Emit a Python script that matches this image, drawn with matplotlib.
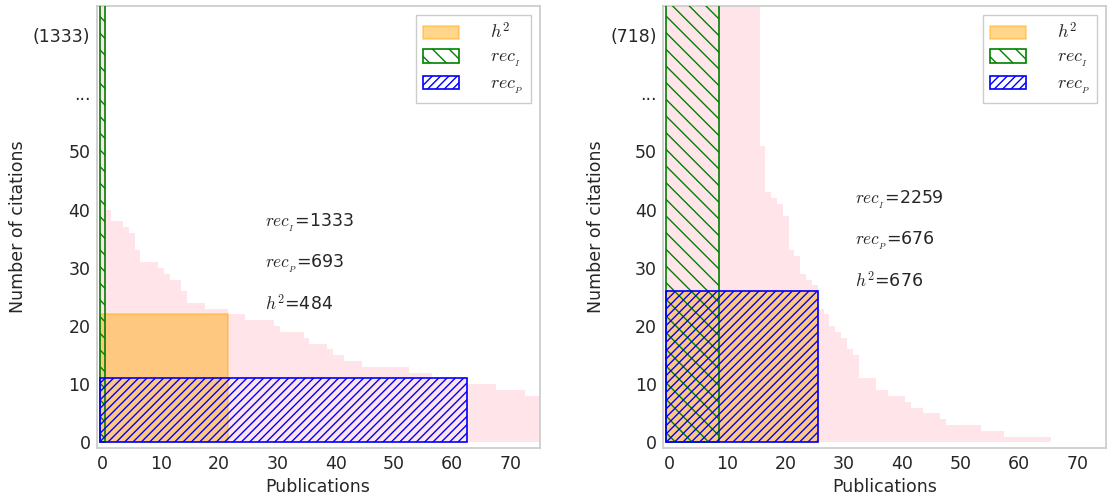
import matplotlib
matplotlib.use('Agg')
from matplotlib import pyplot as plt

# citations per publication, sorted descending (first bars of the right panel are clipped)
cites_left = [1333, 40, 38, 38, 37, 36, 33, 31, 31, 31, 30, 29, 28, 28, 26,
              24, 24, 24, 23, 23, 23, 23, 22, 22, 22, 21, 21, 21, 21, 21,
              20, 19, 19, 19, 19, 18, 17, 17, 17, 16, 15, 15, 14, 14, 14,
              13, 13, 13, 13, 13, 13, 13, 13, 12, 12, 12, 12, 11, 11, 11,
              11, 11, 11, 10, 10, 10, 10, 10, 9, 9, 9, 9, 9, 8, 8, 8]
cites_right = [718, 600, 480, 420, 350, 310, 290, 270, 251, 180, 150, 120, 100, 90, 80,
               76, 51, 43, 42, 41, 39, 33, 32, 29, 28, 27, 23, 22, 20, 19,
               18, 16, 15, 11, 11, 11, 9, 9, 8, 8, 8, 7, 6, 6, 5,
               5, 5, 4, 3, 3, 3, 3, 3, 3, 2, 2, 2, 2, 1, 1,
               1, 1, 1, 1, 1, 1]

y_ticks = [0, 10, 20, 30, 40, 50, 60, 70]

plt.rcParams['mathtext.fontset'] = 'cm'
plt.rcParams['font.size'] = 12
plt.rcParams['text.color'] = '#262626'
plt.rcParams['axes.labelcolor'] = '#262626'
plt.rcParams['xtick.color'] = '#262626'
plt.rcParams['ytick.color'] = '#262626'
plt.rcParams['hatch.linewidth'] = 1.0


def indicators(c):
    h = max(k for k in range(len(c) + 1) if k == 0 or c[k - 1] >= k)
    ri = max((k * c[k - 1], k) for k in range(1, h + 1))
    rp = max((k * min(c[k - 1], h), k) for k in range(h, len(c) + 1))
    ri_w = ri[1]
    rp_w = rp[1]
    return h, ri_w, c[ri_w - 1], rp_w, min(c[rp_w - 1], h)


def draw(ax, c):
    h, ri_w, ri_h, rp_w, rp_h = indicators(c)
    ax.bar(range(len(c)), c, width=1, color='pink', alpha=0.4, linewidth=0, zorder=1)
    ax.bar(-0.5, h, width=h, align='edge', facecolor='orange', edgecolor='orange',
           alpha=0.45, linewidth=1.2, label='$h^2$', zorder=2)
    ax.bar(-0.5, ri_h, width=ri_w, align='edge', facecolor='none', edgecolor='green',
           hatch='\\\\', linewidth=1.2, label='$rec_{_I}$', zorder=3)
    ax.bar(-0.5, rp_h, width=rp_w, align='edge', facecolor='none', edgecolor='blue',
           hatch='////', linewidth=1.2, label='$rec_{_P}$', zorder=4)

    tx = h + 5.9
    ax.text(tx, h + 15, '$rec_{_I}$=%d' % (ri_w * ri_h), va='baseline', fontsize=12.5)
    ax.text(tx, h + 8, '$rec_{_P}$=%d' % (rp_w * rp_h), va='baseline', fontsize=12.5)
    ax.text(tx, h + 0.7, '$h^2$=%d' % (h * h), va='baseline', fontsize=12.5)

    ax.set_xlim(-1, 75)
    ax.set_ylim(-1, 75)
    ax.set_yticks(y_ticks)
    ax.set_yticklabels([str(t) for t in y_ticks[:-2]] + ['...', '(%d)' % c[0]])
    ax.set_xticks(range(0, 71, 10))
    ax.tick_params(length=0, pad=4.5, labelsize=12.5)
    for s in ax.spines.values():
        s.set_color('#cccccc')
        s.set_linewidth(1.25)
    ax.set_xlabel('Publications', fontsize=12.5)
    ax.set_ylabel('Number of citations', fontsize=12.5)
    leg = ax.legend(loc='upper right', fontsize=13, fancybox=False,
                    handletextpad=1.7, labelspacing=0.3, handleheight=0.8,
                    framealpha=1)
    leg.get_frame().set_edgecolor('#cccccc')


fig = plt.figure(figsize=(11.1, 5.01), dpi=100)
ax1 = fig.add_axes([0.0871, 0.1052, 0.3991, 0.8828])
ax2 = fig.add_axes([0.5976, 0.1052, 0.3991, 0.8828])
draw(ax1, cites_left)
draw(ax2, cites_right)

fig.savefig('out.png', dpi=100)
